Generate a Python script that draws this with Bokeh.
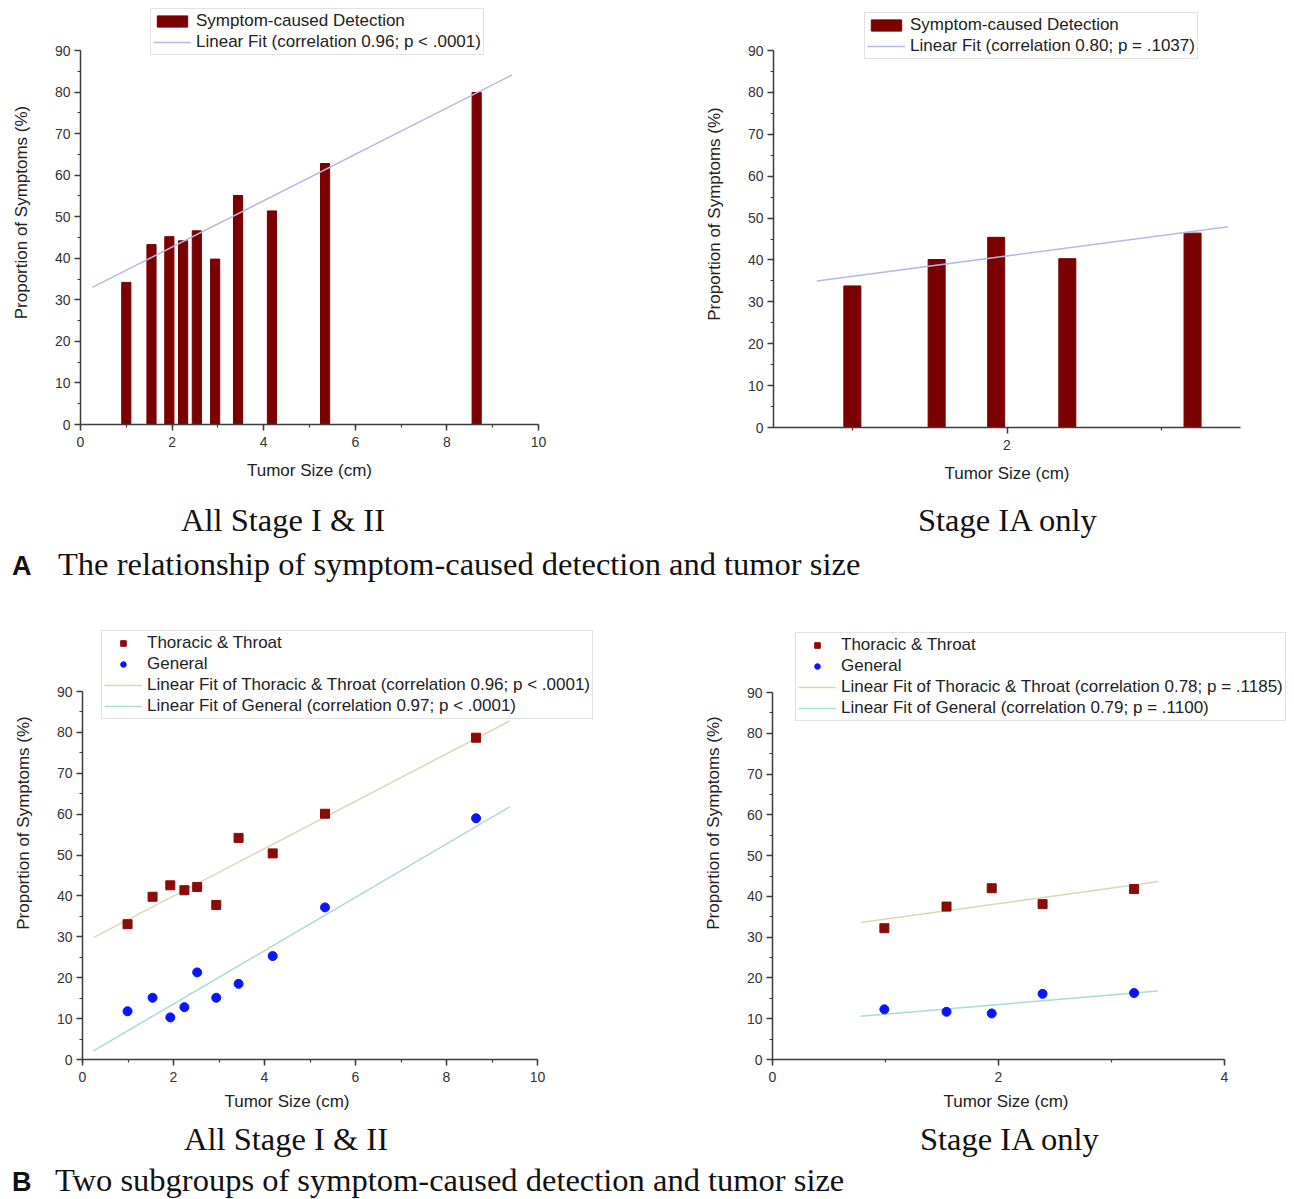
from bokeh.plotting import figure
from bokeh.models import (Range1d, SingleIntervalTicker, FixedTicker, Legend,
                          LegendItem, Div, Title)
from bokeh.layouts import column, row
from bokeh.embed import file_html
from bokeh.resources import INLINE

# ---------------- data ----------------
# Panel A, all stage I & II
a_all_size = [1.0, 1.55, 1.94, 2.24, 2.54, 2.94, 3.44, 4.18, 5.34, 8.65]
a_all_pct = [34.2, 43.3, 45.2, 44.2, 46.6, 39.8, 55.1, 51.4, 62.8, 79.9]
a_all_fit_x = [0.26, 9.42]
a_all_fit_y = [33.0, 84.1]

# Panel A, stage IA only
a_ia_size = [1.0, 1.545, 1.93, 2.39, 3.2]
a_ia_pct = [33.8, 40.1, 45.4, 40.3, 46.4]
a_ia_fit_x = [0.77, 3.43]
a_ia_fit_y = [35.0, 47.9]

# Panel B, all stage I & II
b_all_size = [0.99, 1.54, 1.93, 2.24, 2.52, 2.94, 3.43, 4.18, 5.33, 8.65]
b_all_thor = [33.1, 39.8, 42.6, 41.4, 42.2, 37.8, 54.2, 50.4, 60.1, 78.7]
b_all_gen = [11.8, 15.1, 10.3, 12.8, 21.3, 15.1, 18.5, 25.3, 37.2, 59.0]
b_all_fit_x = [0.24, 9.39]
b_all_fit_thor = [29.8, 82.8]
b_all_fit_gen = [2.1, 61.8]

# Panel B, stage IA only
b_ia_size = [0.99, 1.54, 1.94, 2.39, 3.2]
b_ia_thor = [32.2, 37.5, 42.0, 38.1, 41.8]
b_ia_gen = [12.3, 11.7, 11.3, 16.1, 16.3]
b_ia_fit_x = [0.78, 3.41]
b_ia_fit_thor = [33.6, 43.6]
b_ia_fit_gen = [10.6, 16.8]

# labels
x_label = "Tumor Size (cm)"
y_label = "Proportion of Symptoms (%)"
lbl_bar = "Symptom-caused Detection"
lbl_fit_a_all = "Linear Fit (correlation 0.96; p < .0001)"
lbl_fit_a_ia = "Linear Fit (correlation 0.80; p = .1037)"
lbl_thor = "Thoracic & Throat"
lbl_gen = "General"
lbl_fit_thor_all = "Linear Fit of Thoracic & Throat (correlation 0.96; p < .0001)"
lbl_fit_gen_all = "Linear Fit of General (correlation 0.97; p < .0001)"
lbl_fit_thor_ia = "Linear Fit of Thoracic & Throat (correlation 0.78; p = .1185)"
lbl_fit_gen_ia = "Linear Fit of General (correlation 0.79; p = .1100)"

Y_MAX_AXIS = 90

# ---------------- styles ----------------
BAR = "#7b0000"
SQ = "#8b0a0a"
DOT = "#0a14ff"
FIT_A = "#b7b7e6"
FIT_T = "#dcd6b2"
FIT_G = "#a9dbd8"
AX = "#3c3c3c"
FONT = "Liberation Sans"


def make_fig(x0, x1, ax_w, fw, fh, px90, left, right, bottom, xticker, xlab_offset=None):
    # The frame extends above the 90 mark (and to the right of the x axis end
    # where needed) so the legend can sit inside it; the axes stop at their ends.
    y_top = Y_MAX_AXIS * fh / px90
    x_right = x0 + (x1 - x0) * fw / ax_w
    p = figure(x_range=Range1d(x0, x_right), y_range=Range1d(0, y_top),
               frame_width=fw, frame_height=fh,
               min_border_left=left, min_border_right=right,
               min_border_top=0, min_border_bottom=bottom,
               output_backend="svg", toolbar_location=None, margin=0)
    p.xaxis.ticker = xticker
    p.xaxis.bounds = (x0, x1)
    p.yaxis.ticker = SingleIntervalTicker(interval=10, num_minor_ticks=2)
    p.yaxis.bounds = (0, Y_MAX_AXIS)
    for ax in (p.xaxis[0], p.yaxis[0]):
        ax.axis_line_color = AX
        ax.axis_line_width = 1.5
        ax.major_tick_line_color = AX
        ax.major_tick_line_width = 1.5
        ax.minor_tick_line_color = AX
        ax.minor_tick_line_width = 1.2
        ax.major_tick_out = 6
        ax.major_tick_in = 0
        ax.minor_tick_out = 3
        ax.minor_tick_in = 0
        ax.major_label_text_font = FONT
        ax.major_label_text_font_size = "14px"
        ax.major_label_text_color = "#333333"
        ax.axis_label_text_font = FONT
        ax.axis_label_text_font_size = "17px"
        ax.axis_label_text_font_style = "normal"
        ax.axis_label_text_color = "#222222"
    p.yaxis.axis_label = y_label
    p.xaxis.major_label_standoff = 6
    p.yaxis.major_label_standoff = 4
    p.yaxis.axis_label_standoff = 21
    if xlab_offset is None:
        p.xaxis.axis_label = x_label
        p.xaxis.axis_label_standoff = 11
    else:
        # axis title placed under the axis (the frame is wider than the axis)
        p.add_layout(Title(text=x_label, align="left", offset=xlab_offset,
                           text_font=FONT, text_font_size="17px",
                           text_font_style="normal", text_color="#222222",
                           standoff=10), "below")
    p.grid.visible = False
    p.outline_line_color = None
    p.background_fill_color = "white"
    p.border_fill_color = "white"
    return p


def make_legend(items, vx, vy):
    lg = Legend(items=items, location=(vx, vy))
    lg.label_text_font = FONT
    lg.label_text_font_size = "17px"
    lg.label_text_color = "#222222"
    lg.label_height = 18
    lg.glyph_height = 14
    lg.glyph_width = 38
    lg.label_standoff = 5
    lg.spacing = 1
    lg.padding = 2
    lg.margin = 0
    lg.border_line_color = "#c4c4c4"
    lg.border_line_width = 1
    lg.background_fill_color = "white"
    lg.background_fill_alpha = 1.0
    return lg


# ---------------- panel A, all ----------------
p1 = make_fig(0, 10, 458, 458, 424, 374, 80, 110, 74,
              SingleIntervalTicker(interval=2, num_minor_ticks=2))
r_bar1 = p1.vbar(x=a_all_size, top=a_all_pct, width=0.2, bottom=0,
                 fill_color=BAR, line_color=BAR)
r_fit1 = p1.line(a_all_fit_x, a_all_fit_y, line_color=FIT_A, line_width=1.5)
p1.add_layout(make_legend([LegendItem(label=lbl_bar, renderers=[r_bar1]),
                           LegendItem(label=lbl_fit_a_all, renderers=[r_fit1])],
                          70, 369))

# ---------------- panel A, IA ----------------
p2 = make_fig(0.49, 3.51, 467, 467, 427, 377, 125, 54, 71,
              FixedTicker(ticks=[2], minor_ticks=[1, 3]))
r_bar2 = p2.vbar(x=a_ia_size, top=a_ia_pct, width=0.11, bottom=0,
                 fill_color=BAR, line_color=BAR)
r_fit2 = p2.line(a_ia_fit_x, a_ia_fit_y, line_color=FIT_A, line_width=1.5)
p2.add_layout(make_legend([LegendItem(label=lbl_bar, renderers=[r_bar2]),
                           LegendItem(label=lbl_fit_a_ia, renderers=[r_fit2])],
                          91, 368))

# ---------------- panel B, all ----------------
p3 = make_fig(0, 10, 455, 566, 473, 368, 82, 0, 58,
              SingleIntervalTicker(interval=2, num_minor_ticks=2), xlab_offset=142)
r_ft3 = p3.line(b_all_fit_x, b_all_fit_thor, line_color=FIT_T, line_width=1.5)
r_fg3 = p3.line(b_all_fit_x, b_all_fit_gen, line_color=FIT_G, line_width=1.5)
r_t3 = p3.scatter(b_all_size, b_all_thor, marker="square", size=9,
                  fill_color=SQ, line_color=SQ)
r_g3 = p3.scatter(b_all_size, b_all_gen, marker="circle", size=9,
                  fill_color=DOT, line_color=DOT)
p3.add_layout(make_legend([LegendItem(label=lbl_thor, renderers=[r_t3]),
                           LegendItem(label=lbl_gen, renderers=[r_g3]),
                           LegendItem(label=lbl_fit_thor_all, renderers=[r_ft3]),
                           LegendItem(label=lbl_fit_gen_all, renderers=[r_fg3])],
                          19, 340))

# ---------------- panel B, IA ----------------
p4 = make_fig(0, 4, 452, 522, 473, 367, 124, 0, 58,
              SingleIntervalTicker(interval=2, num_minor_ticks=2), xlab_offset=171)
r_ft4 = p4.line(b_ia_fit_x, b_ia_fit_thor, line_color=FIT_T, line_width=1.5)
r_fg4 = p4.line(b_ia_fit_x, b_ia_fit_gen, line_color=FIT_G, line_width=1.5)
r_t4 = p4.scatter(b_ia_size, b_ia_thor, marker="square", size=9,
                  fill_color=SQ, line_color=SQ)
r_g4 = p4.scatter(b_ia_size, b_ia_gen, marker="circle", size=9,
                  fill_color=DOT, line_color=DOT)
p4.add_layout(make_legend([LegendItem(label=lbl_thor, renderers=[r_t4]),
                           LegendItem(label=lbl_gen, renderers=[r_g4]),
                           LegendItem(label=lbl_fit_thor_ia, renderers=[r_ft4]),
                           LegendItem(label=lbl_fit_gen_ia, renderers=[r_fg4])],
                          23, 338))

# ---------------- captions ----------------
SERIF = "font-family:'Liberation Serif',serif;font-size:32.5px;color:#111;white-space:nowrap;"


def sub_caption(text, pad, width, height=44):
    return Div(text=f'<div style="{SERIF}line-height:{height}px;margin-left:{pad}px">{text}</div>',
               width=width, height=height, margin=0)


def main_caption(letter, text, text_left, height):
    html = (f'<div style="{SERIF}line-height:{height}px">'
            f'<span style="font-family:\'Liberation Sans\',sans-serif;font-weight:bold;'
            f'font-size:27px;display:inline-block;width:{text_left - 12}px;margin-left:12px">{letter}</span>'
            f'<span>{text}</span></div>')
    return Div(text=html, width=1294, height=height, margin=0)


d1 = sub_caption("All Stage I &amp; II", 181, 648)
d2 = sub_caption("Stage IA only", 270, 646)
dA = main_caption("A", "The relationship of symptom-caused detection and tumor size", 58, 44)
d3 = sub_caption("All Stage I &amp; II", 184, 648)
d4 = sub_caption("Stage IA only", 272, 646)
dB = main_caption("B", "Two subgroups of symptom-caused detection and tumor size", 55, 38)

layout = column(row(p1, p2, spacing=0), row(d1, d2, spacing=0), dA,
                row(p3, p4, spacing=0), row(d3, d4, spacing=0), dB, spacing=0)

open("out.html", "w").write(file_html(layout, INLINE))
